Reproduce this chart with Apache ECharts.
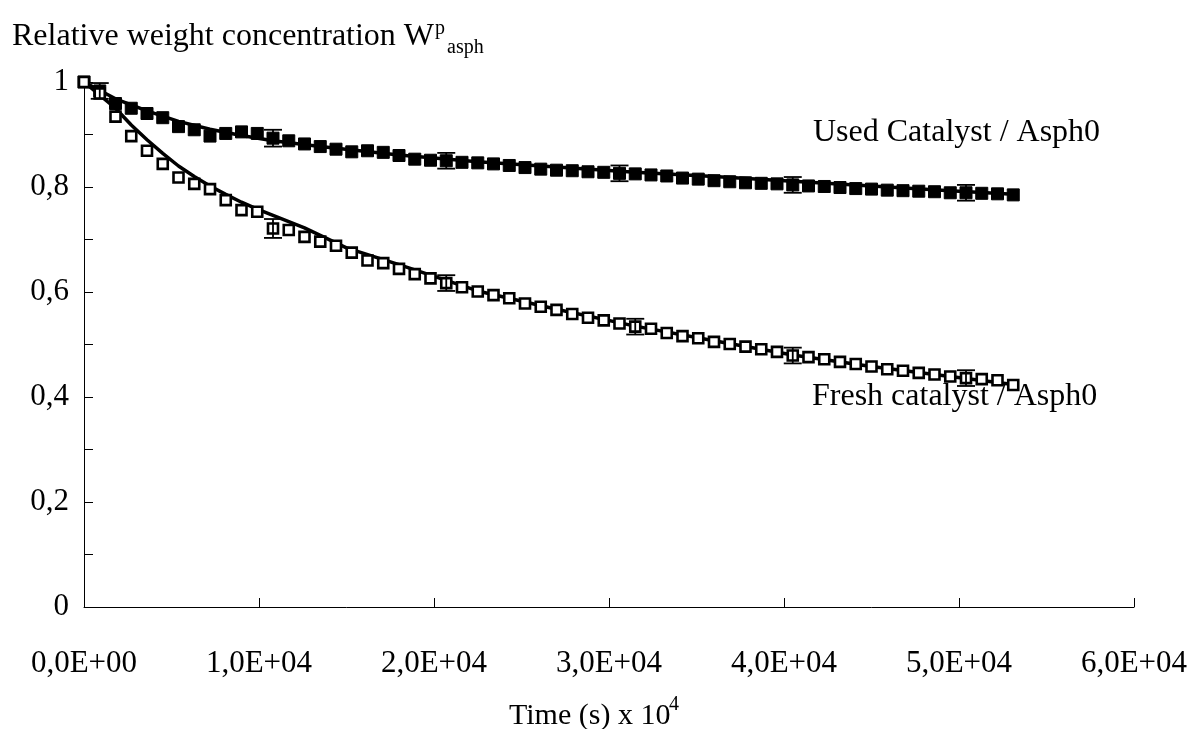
<!DOCTYPE html>
<html>
<head>
<meta charset="utf-8">
<script src="https://cdn.jsdelivr.net/npm/echarts@6/dist/echarts.min.js"></script>
<style>
html,body{margin:0;padding:0;background:#fff;}
#chart{width:1192px;height:729px;}
</style>
</head>
<body>
<div id="chart"></div>
<script>
// ---- Data ----
const times = [0,900,1800,2700,3600,4500,5400,6300,7200,8100,9000,9900,10800,11700,12600,13500,14400,15300,16200,17100,
  18000,18900,19800,20700,21600,22500,23400,24300,25200,26100,27000,27900,28800,29700,30600,31500,32400,33300,34200,35100,
  36000,36900,37800,38700,39600,40500,41400,42300,43200,44100,45000,45900,46800,47700,48600,49500,50400,51300,52200,53100];

const usedCatalyst = [1.000,0.983,0.959,0.950,0.940,0.932,0.915,0.909,0.897,0.902,0.905,0.902,0.893,0.888,0.882,0.877,0.872,0.867,0.869,0.866,
  0.860,0.853,0.851,0.850,0.847,0.846,0.844,0.841,0.837,0.834,0.832,0.831,0.829,0.828,0.826,0.825,0.823,0.821,0.817,0.815,
  0.812,0.810,0.808,0.807,0.806,0.804,0.802,0.801,0.799,0.797,0.796,0.794,0.793,0.792,0.791,0.789,0.789,0.788,0.787,0.785];

const freshCatalyst = [1.000,0.978,0.934,0.897,0.869,0.844,0.818,0.806,0.796,0.775,0.756,0.753,0.721,0.718,0.705,0.696,0.688,0.675,0.660,0.655,
  0.644,0.634,0.626,0.617,0.609,0.601,0.594,0.588,0.578,0.572,0.566,0.558,0.551,0.546,0.540,0.534,0.530,0.522,0.516,0.512,
  0.505,0.501,0.496,0.491,0.486,0.479,0.476,0.472,0.467,0.463,0.458,0.453,0.450,0.446,0.443,0.439,0.436,0.434,0.432,0.423];

// model (fit) curves
const usedFitTimes = [0,1800,3600,5400,7200,9000,10800,13500,18000,22500,27000,31500,36000,40500,45000,49500,53100];
const usedFit = [1.000,0.968,0.945,0.925,0.910,0.898,0.888,0.877,0.861,0.848,0.838,0.828,0.820,0.811,0.802,0.793,0.786];

const freshFitTimes = [0,900,1800,2700,3600,4500,5400,6300,7200,8100,9000,9900,10800,11700,12600,13500,15000,18000,22500,27000,31500,36000,40500,45000,49500,53100];
const freshFit = [1.000,0.975,0.950,0.918,0.890,0.864,0.840,0.820,0.802,0.786,0.771,0.758,0.746,0.734,0.722,0.708,0.684,0.652,0.602,0.567,0.535,0.507,0.480,0.458,0.439,0.424];

// error bars: time, half-width
const usedErrTimes = [900,10800,20700,30600,40500,50400];
const usedErr = [0.015,0.016,0.015,0.015,0.015,0.015];
const freshErrTimes = [10800,20700,31500,40500,50400];
const freshErr = [0.018,0.015,0.015,0.015,0.015];

const xTicks = [0,10000,20000,30000,40000,50000,60000];
const yTicks = [0,0.2,0.4,0.6,0.8,1];

const labelUsed = 'Used Catalyst / Asph0';
const labelFresh = 'Fresh catalyst / Asph0';

// ---- Build ----
const zip = (xs, ys) => xs.map((x, i) => [x, ys[i]]);
function errData(ts, es, series) {
  return ts.map((t, i) => {
    const v = series[times.indexOf(t)];
    return [t, v - es[i], v + es[i]];
  });
}
function fmtX(v) {
  if (v === 0) return '0,0E+00';
  const e = Math.floor(Math.log10(v));
  const m = v / Math.pow(10, e);
  return m.toFixed(1).replace('.', ',') + 'E+' + String(e).padStart(2, '0');
}
function fmtY(v) {
  if (Math.abs(v) < 1e-9) return '0';
  if (Math.abs(v - 1) < 1e-9) return '1';
  return v.toFixed(1).replace('.', ',');
}
function errRender(params, api) {
  const x = api.value(0);
  const p1 = api.coord([x, api.value(2)]);
  const p2 = api.coord([x, api.value(1)]);
  const w = 9;
  const st = { stroke: '#000', lineWidth: 1.8 };
  return {
    type: 'group',
    children: [
      { type: 'line', shape: { x1: p1[0], y1: p1[1], x2: p2[0], y2: p2[1] }, style: st },
      { type: 'line', shape: { x1: p1[0] - w, y1: p1[1], x2: p1[0] + w, y2: p1[1] }, style: st },
      { type: 'line', shape: { x1: p2[0] - w, y1: p2[1], x2: p2[0] + w, y2: p2[1] }, style: st }
    ]
  };
}

const FONT = '"Liberation Serif", "Times New Roman", serif';
const chart = echarts.init(document.getElementById('chart'), null, { renderer: 'canvas' });

chart.setOption({
  backgroundColor: '#fff',
  animation: false,
  textStyle: { fontFamily: FONT, color: '#000' },
  grid: { left: 84, right: 58, top: 82, bottom: 122, outerBoundsMode: 'none' },
  xAxis: {
    type: 'value', min: xTicks[0], max: xTicks[xTicks.length - 1], interval: xTicks[1] - xTicks[0],
    axisLine: { show: true, onZero: false, lineStyle: { color: '#000', width: 1 } },
    axisTick: { show: true, inside: true, length: 9, lineStyle: { color: '#000' } },
    axisLabel: { formatter: fmtX, fontSize: 31, fontFamily: FONT, color: '#000', margin: 41 },
    splitLine: { show: false }
  },
  yAxis: {
    type: 'value', min: yTicks[0], max: yTicks[yTicks.length - 1], interval: yTicks[1] - yTicks[0],
    axisLine: { show: true, onZero: false, lineStyle: { color: '#000', width: 1 } },
    axisTick: { show: true, inside: true, length: 9, lineStyle: { color: '#000' } },
    minorTick: { show: true, splitNumber: 2, length: 9, lineStyle: { color: '#000', width: 1 } },
    axisLabel: { formatter: fmtY, fontSize: 31, fontFamily: FONT, color: '#000', margin: 15 },
    splitLine: { show: false }
  },
  series: [
    { name: 'usedFit', type: 'line', data: zip(usedFitTimes, usedFit), showSymbol: false, smooth: false,
      lineStyle: { color: '#000', width: 3.5 }, z: 2, silent: true },
    { name: 'freshFit', type: 'line', data: zip(freshFitTimes, freshFit), showSymbol: false, smooth: false,
      lineStyle: { color: '#000', width: 3.5 }, z: 2, silent: true },
    { name: labelUsed, type: 'scatter', data: zip(times, usedCatalyst), symbol: 'rect', symbolSize: 12,
      itemStyle: { color: '#000', borderColor: '#000', borderWidth: 1, opacity: 1 }, z: 3 },
    { name: labelFresh, type: 'scatter', data: zip(times, freshCatalyst), symbol: 'rect', symbolSize: 10,
      itemStyle: { color: '#fff', borderColor: '#000', borderWidth: 2.6, opacity: 1 }, z: 4 },
    { name: 'usedErr', type: 'custom', renderItem: errRender, data: errData(usedErrTimes, usedErr, usedCatalyst),
      encode: { x: 0, y: [1, 2] }, z: 5, silent: true },
    { name: 'freshErr', type: 'custom', renderItem: errRender, data: errData(freshErrTimes, freshErr, freshCatalyst),
      encode: { x: 0, y: [1, 2] }, z: 5, silent: true }
  ],
  graphic: [
    { type: 'text', x: 12, y: 37, style: { text: 'Relative weight concentration W', font: '32px ' + FONT, fill: '#000', verticalAlign: 'middle' } },
    { type: 'text', x: 435, y: 29, style: { text: 'p', font: '20px ' + FONT, fill: '#000', verticalAlign: 'middle' } },
    { type: 'text', x: 447, y: 48, style: { text: 'asph', font: '20px ' + FONT, fill: '#000', verticalAlign: 'middle' } },
    { type: 'text', x: 509, y: 716, style: { text: 'Time (s) x 10', font: '30px ' + FONT, fill: '#000', verticalAlign: 'middle' } },
    { type: 'text', x: 669, y: 705, style: { text: '4', font: '20px ' + FONT, fill: '#000', verticalAlign: 'middle' } },
    { type: 'text', x: 813, y: 133, style: { text: labelUsed, font: '32px ' + FONT, fill: '#000', verticalAlign: 'middle' } },
    { type: 'text', x: 812, y: 397, style: { text: labelFresh, font: '32px ' + FONT, fill: '#000', verticalAlign: 'middle' } }
  ]
});
</script>
</body>
</html>
